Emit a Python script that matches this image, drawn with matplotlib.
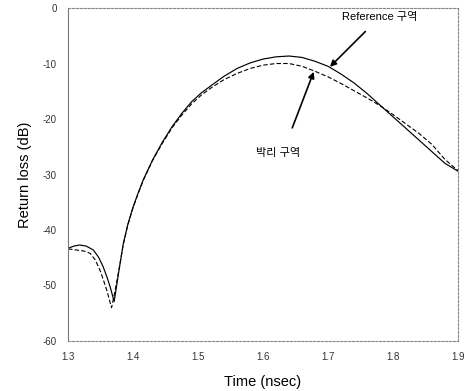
import matplotlib
matplotlib.use("Agg")
import matplotlib.pyplot as plt

plt.rcParams['font.family'] = ['Liberation Sans', 'Noto Sans CJK KR', 'DejaVu Sans']

t_ref = [1.300, 1.309, 1.318, 1.328, 1.339, 1.347, 1.354, 1.360, 1.365, 1.371,
         1.378, 1.385, 1.392, 1.400, 1.408, 1.416, 1.430, 1.445, 1.460, 1.475,
         1.490, 1.505, 1.520, 1.540, 1.560, 1.580, 1.600, 1.620, 1.640, 1.660,
         1.680, 1.700, 1.720, 1.740, 1.760, 1.780, 1.800, 1.820, 1.840, 1.860,
         1.880, 1.900]
rl_ref = [-43.3, -42.9, -42.7, -42.9, -43.6, -44.9, -46.6, -48.5, -50.3, -52.9,
          -47.6, -42.5, -39.0, -35.9, -33.3, -30.9, -27.4, -24.2, -21.4, -19.0,
          -16.9, -15.3, -14.0, -12.3, -10.9, -9.9, -9.2, -8.8, -8.65, -8.9,
          -9.6, -10.5, -11.9, -13.5, -15.4, -17.5, -19.6, -21.7, -23.8, -25.9,
          -28.0, -29.4]

t_del = [1.300, 1.313, 1.325, 1.334, 1.342, 1.349, 1.355, 1.360, 1.367, 1.372,
         1.378, 1.385, 1.392, 1.400, 1.408, 1.416, 1.430, 1.445, 1.460, 1.475,
         1.490, 1.505, 1.520, 1.540, 1.560, 1.580, 1.600, 1.620, 1.640, 1.660,
         1.680, 1.700, 1.720, 1.740, 1.760, 1.780, 1.800, 1.820, 1.840, 1.860,
         1.880, 1.900]
rl_del = [-43.4, -43.6, -43.8, -44.2, -45.4, -47.2, -49.2, -51.0, -54.0, -51.2,
          -47.4, -42.6, -39.1, -36.0, -33.4, -31.0, -27.5, -24.4, -21.6, -19.3,
          -17.3, -15.7, -14.4, -12.9, -11.8, -10.9, -10.3, -10.0, -10.0, -10.5,
          -11.4, -12.4, -13.6, -14.9, -16.2, -17.6, -19.2, -20.9, -22.6, -24.6,
          -27.3, -29.3]

xticks = [1.3, 1.4, 1.5, 1.6, 1.7, 1.8, 1.9]
yticks = [0, -10, -20, -30, -40, -50, -60]

fig = plt.figure(figsize=(4.70, 3.91), dpi=100)
ax = fig.add_axes([0.1447, 0.1279, 0.8298, 0.8516])

ax.plot(t_ref, rl_ref, color='black', lw=0.85, solid_joinstyle='round')
ax.plot(t_del, rl_del, color='black', lw=0.8, linestyle=(0, (4, 2)))

ax.set_xlim(1.3, 1.9)
ax.set_ylim(-60, 0)
ax.set_xticks(xticks)
ax.set_xticklabels([f"{v:.1f}" for v in xticks])
ax.set_yticks(yticks)
ax.set_yticklabels([str(v) for v in yticks])
ax.tick_params(length=0, labelsize=7, colors='#333333', pad=8)

for side in ['top', 'right', 'bottom']:
    ax.spines[side].set_linestyle((0, (2, 1.5)))
    ax.spines[side].set_color('#888888')
    ax.spines[side].set_linewidth(0.8)
ax.spines['left'].set_color('#777777')
ax.spines['left'].set_linewidth(0.8)

ax.set_xlabel('Time (nsec)', fontsize=10.5, labelpad=9)
ax.set_ylabel('Return loss (dB)', fontsize=10.5, labelpad=8)

ax.annotate('Reference 구역', xy=(1.703, -10.6), xytext=(1.78, -1.6),
            fontsize=8, ha='center', va='center',
            arrowprops=dict(arrowstyle='-|>', color='black', lw=1.2,
                            mutation_scale=9, shrinkA=7, shrinkB=0))
ax.annotate('', xy=(1.678, -11.5), xytext=(1.645, -21.6),
            arrowprops=dict(arrowstyle='-|>', color='black', lw=1.2,
                            mutation_scale=9, shrinkA=0, shrinkB=0))
ax.text(1.623, -26.1, '박리 구역', fontsize=8, ha='center', va='center')

fig.savefig('out.png', dpi=100)
